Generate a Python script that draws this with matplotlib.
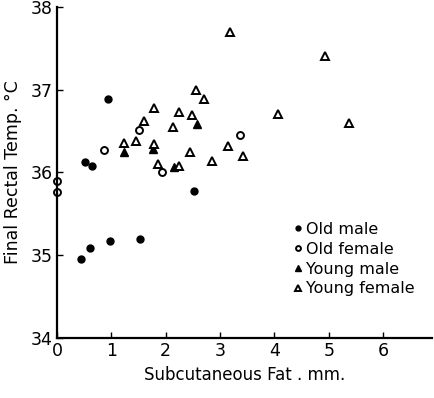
import matplotlib
matplotlib.use("Agg")
import matplotlib.pyplot as plt

# Subcutaneous fat (mm) vs final rectal temperature (deg C)
old_male_x = [0.45, 0.61, 0.98, 1.52, 0.52, 0.65, 0.93, 2.53]
old_male_y = [34.95, 35.09, 35.17, 35.20, 36.12, 36.08, 36.89, 35.78]

old_female_x = [0.0, 0.0, 0.87, 1.50, 1.94, 3.37]
old_female_y = [35.89, 35.76, 36.27, 36.51, 36.01, 36.45]

young_male_x = [1.23, 1.77, 2.15, 2.58]
young_male_y = [36.25, 36.28, 36.06, 36.58]

young_female_x = [1.24, 1.46, 1.78, 1.61, 1.79, 1.85, 2.13, 2.25, 2.24, 2.44,
                  2.48, 2.56, 2.70, 2.85, 3.14, 3.19, 3.43, 4.06, 4.94, 5.38]
young_female_y = [36.36, 36.38, 36.34, 36.62, 36.78, 36.10, 36.55, 36.73, 36.08, 36.25,
                  36.69, 36.99, 36.89, 36.14, 36.32, 37.70, 36.20, 36.70, 37.41, 36.59]

xticks = [0, 1, 2, 3, 4, 5, 6]
yticks = [34, 35, 36, 37, 38]

fig = plt.figure(figsize=(4.35, 3.98), dpi=100)
ax = fig.add_axes([0.131, 0.151, 0.862, 0.832])

ms = 5
ax.plot(old_male_x, old_male_y, 'o', color='black', ms=ms, label='Old male',
        clip_on=False)
ax.plot(old_female_x, old_female_y, 'o', mfc='white', mec='black', mew=1.4,
        ms=ms, label='Old female', clip_on=False)
ax.plot(young_male_x, young_male_y, '^', color='black', ms=ms + 1,
        label='Young male', clip_on=False)
ax.plot(young_female_x, young_female_y, '^', mfc='white', mec='black', mew=1.4,
        ms=ms + 1, label='Young female', clip_on=False)

ax.set_xlim(0, 6.9)
ax.set_ylim(34, 38)
ax.set_xticks(xticks)
ax.set_yticks(yticks)
ax.tick_params(direction='in', length=4, width=1, labelsize=12.5, pad=3)

for s in ['top', 'right']:
    ax.spines[s].set_visible(False)
for s in ['left', 'bottom']:
    ax.spines[s].set_linewidth(1.6)

ax.set_xlabel('Subcutaneous Fat . mm.', fontsize=12)
ax.set_ylabel('Final Rectal Temp. °C', fontsize=12.5, labelpad=6)

leg = ax.legend(loc='upper left', bbox_to_anchor=(0.61, 0.374), frameon=False,
                fontsize=11.5, handlelength=0.6, handletextpad=0.2,
                labelspacing=0.3, borderpad=0, markerscale=0.7)

fig.savefig('out.png', dpi=100)
